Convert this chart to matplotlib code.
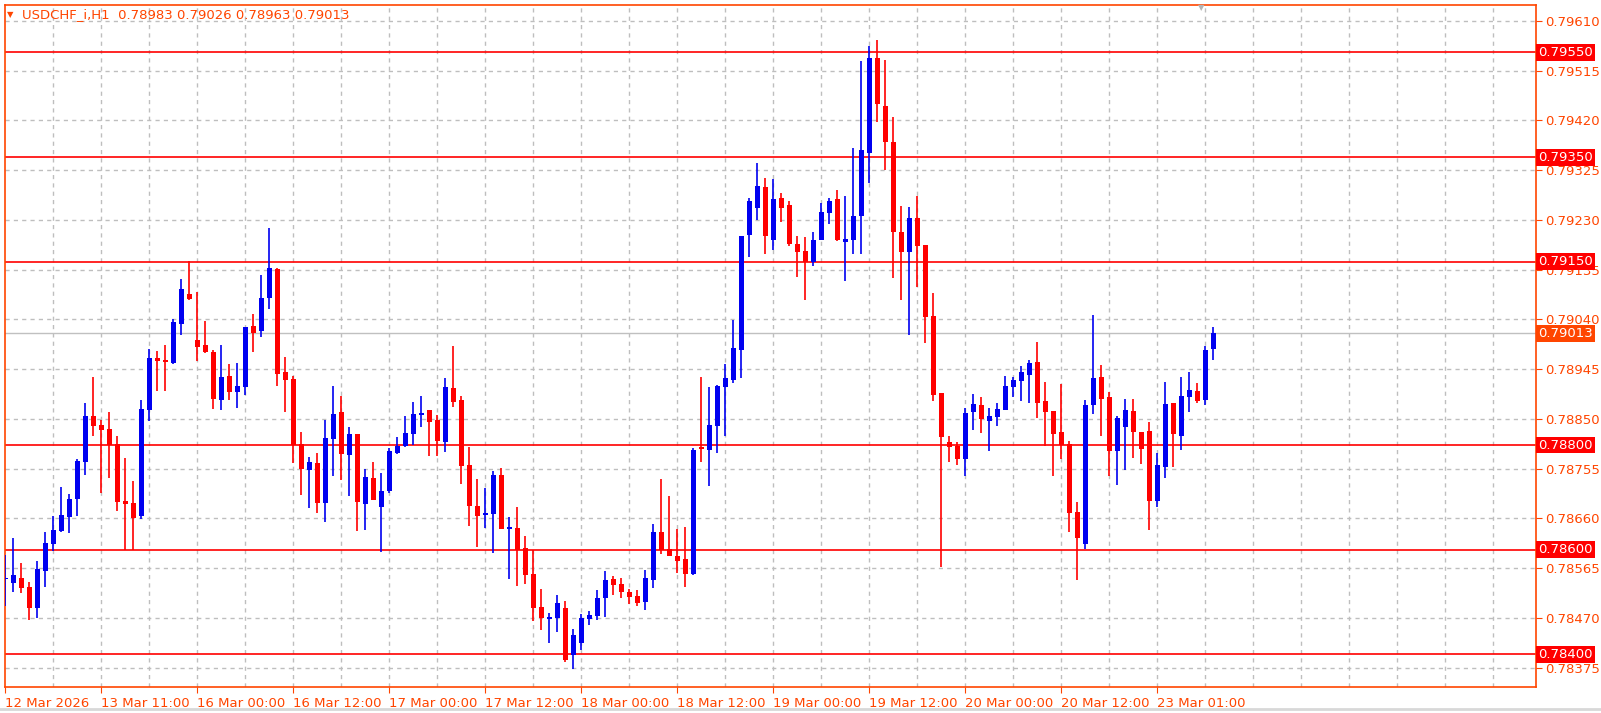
import numpy as np
import matplotlib.pyplot as plt
from matplotlib.patches import Rectangle

# USDCHF_i H1 candles, prices in points (1e-5)
opens = [78544, 78537, 78546, 78529, 78489, 78559, 78611, 78636, 78663, 78697,
         78768, 78855, 78838, 78831, 78802, 78693, 78689, 78664, 78867, 78966,
         78962, 78957, 79031, 79088, 79001, 78991, 78978, 78886, 78932, 78901,
         78911, 79027, 79018, 79081, 79136, 78939, 78926, 78802, 78752, 78766,
         78689, 78812, 78863, 78781, 78821, 78687, 78737, 78682, 78712, 78785,
         78798, 78821, 78857, 78867, 78848, 78806, 78909, 78886, 78762, 78684,
         78666, 78668, 78743, 78640, 78642, 78603, 78554, 78491, 78468, 78470,
         78489, 78399, 78422, 78468, 78473, 78508, 78544, 78535, 78519, 78512,
         78500, 78542, 78634, 78601, 78588, 78582, 78554, 78796, 78791, 78836,
         78911, 78924, 78982, 79201, 79253, 79293, 79192, 79272, 79259, 79184,
         79170, 79150, 79192, 79243, 79269, 79188, 79192, 79237, 79358, 79539,
         79447, 79379, 79207, 79168, 79233, 79182, 79047, 78899, 78806, 78798,
         78773, 78864, 78876, 78846, 78854, 78867, 78911, 78922, 78934, 78959,
         78884, 78865, 78825, 78802, 78672, 78611, 78876, 78930, 78892, 78789,
         78834, 78865, 78825, 78827, 78693, 78758, 78880, 78817, 78892, 78903,
         78886, 78983]
closes = [78546, 78552, 78527, 78489, 78563, 78613, 78638, 78666, 78697, 78770,
          78855, 78836, 78829, 78800, 78691, 78687, 78661, 78869, 78966, 78960,
          78959, 79035, 79098, 79079, 78987, 78978, 78888, 78930, 78901, 78913,
          79025, 79014, 79081, 79138, 78936, 78924, 78800, 78754, 78768, 78689,
          78813, 78859, 78783, 78821, 78691, 78739, 78695, 78712, 78789, 78798,
          78823, 78859, 78861, 78844, 78808, 78911, 78882, 78760, 78684, 78664,
          78670, 78743, 78640, 78643, 78600, 78552, 78489, 78470, 78472, 78498,
          78389, 78437, 78470, 78475, 78508, 78542, 78533, 78519, 78510, 78498,
          78546, 78634, 78600, 78588, 78578, 78554, 78791, 78792, 78838, 78913,
          78928, 78985, 79199, 79266, 79295, 79199, 79270, 79253, 79184, 79168,
          79150, 79192, 79245, 79267, 79192, 79194, 79237, 79364, 79539, 79452,
          79379, 79207, 79168, 79233, 79180, 79045, 78895, 78816, 78796, 78773,
          78862, 78879, 78850, 78855, 78869, 78913, 78924, 78939, 78957, 78880,
          78863, 78821, 78800, 78670, 78622, 78876, 78928, 78888, 78789, 78852,
          78867, 78825, 78792, 78693, 78762, 78878, 78821, 78894, 78905, 78884,
          78981, 79013]
highs = [78590, 78622, 78575, 78538, 78578, 78634, 78664, 78720, 78706, 78773,
         78880, 78930, 78848, 78863, 78817, 78775, 78731, 78886, 78983, 78980,
         78991, 79041, 79117, 79151, 79092, 79037, 78982, 78991, 78955, 78957,
         79025, 79050, 79125, 79215, 79138, 78968, 78932, 78825, 78777, 78785,
         78848, 78913, 78894, 78834, 78821, 78754, 78768, 78747, 78794, 78815,
         78855, 78882, 78894, 78867, 78857, 78928, 78989, 78894, 78796, 78735,
         78718, 78750, 78756, 78663, 78682, 78626, 78600, 78525, 78479, 78514,
         78502, 78449, 78477, 78483, 78523, 78559, 78550, 78546, 78525, 78523,
         78561, 78649, 78735, 78703, 78640, 78643, 78794, 78930, 78911, 78915,
         78955, 79039, 79199, 79272, 79339, 79310, 79308, 79281, 79267, 79200,
         79198, 79207, 79263, 79271, 79288, 79275, 79367, 79533, 79563, 79573,
         79535, 79427, 79257, 79255, 79275, 79182, 79091, 78899, 78818, 78806,
         78870, 78897, 78892, 78871, 78880, 78932, 78930, 78951, 78962, 78997,
         78920, 78865, 78917, 78808, 78691, 78886, 79048, 78953, 78901, 78855,
         78888, 78888, 78825, 78844, 78785, 78920, 78880, 78930, 78939, 78918,
         78989, 79026]
lows = [78493, 78519, 78517, 78466, 78470, 78529, 78598, 78634, 78632, 78664,
        78743, 78817, 78708, 78737, 78674, 78600, 78600, 78659, 78846, 78903,
        78903, 78955, 79010, 79077, 78960, 78976, 78869, 78867, 78886, 78871,
        78896, 78978, 79006, 79060, 78913, 78863, 78766, 78705, 78680, 78670,
        78653, 78741, 78733, 78703, 78636, 78638, 78695, 78596, 78708, 78783,
        78796, 78800, 78834, 78779, 78779, 78787, 78873, 78726, 78645, 78605,
        78642, 78594, 78640, 78544, 78531, 78535, 78464, 78447, 78422, 78443,
        78385, 78372, 78409, 78456, 78466, 78472, 78514, 78508, 78496, 78493,
        78485, 78527, 78592, 78588, 78556, 78529, 78552, 78768, 78722, 78785,
        78817, 78918, 78928, 79159, 79230, 79165, 79173, 79226, 79180, 79120,
        79077, 79142, 79192, 79223, 79190, 79113, 79164, 79164, 79300, 79417,
        79326, 79119, 79077, 79010, 79101, 78994, 78885, 78567, 78767, 78761,
        78741, 78828, 78823, 78789, 78836, 78867, 78892, 78884, 78880, 78852,
        78798, 78741, 78773, 78634, 78542, 78601, 78859, 78817, 78741, 78724,
        78752, 78775, 78764, 78638, 78682, 78737, 78758, 78791, 78863, 78880,
        78876, 78963]

level_lines = [0.79550, 0.79350, 0.79150, 0.78800, 0.78600, 0.78400]
last_price = 0.79013
time_labels = ['12 Mar 2026', '13 Mar 11:00', '16 Mar 00:00', '16 Mar 12:00',
               '17 Mar 00:00', '17 Mar 12:00', '18 Mar 00:00', '18 Mar 12:00',
               '19 Mar 00:00', '19 Mar 12:00', '20 Mar 00:00', '20 Mar 12:00',
               '23 Mar 01:00']
price_ticks = [0.79610 - 0.00095 * k for k in range(14)]

ORANGE = '#FF4500'
BLUE = '#0000F0'
RED = '#FF0000'
GRID = '#BEBEBE'

o = np.array(opens) / 1e5
c = np.array(closes) / 1e5
h = np.array(highs) / 1e5
l = np.array(lows) / 1e5
n = len(o)
xs = np.arange(n)

W, H = 1601, 713
fig = plt.figure(figsize=(W / 100, H / 100), dpi=100)
ax = fig.add_axes([4.7 / W, 1 - 687 / H, (1535.5 - 4.7) / W, (687 - 4.7) / H])
ax.set_xlim(-0.075, 191.3)
ax.set_ylim(0.783378, 0.796410)

# grid
for x in np.arange(6, 192, 6):
    ax.axvline(x, color=GRID, lw=1, ls=(0, (3, 3)), zorder=0)
for p in price_ticks:
    ax.axhline(p, color=GRID, lw=1, ls=(0, (3, 3)), zorder=0)

# current price line and levels
ax.axhline(last_price, color='#C0C0C0', lw=1, zorder=1)
for lv in level_lines:
    ax.axhline(lv, color=RED, lw=1.2, zorder=1)

# candles
px = (0.796410 - 0.783378) / (687 - 4.7)
for i in range(n):
    up = c[i] >= o[i]
    col = BLUE if up else RED
    ax.vlines(xs[i], l[i], h[i], color=col, lw=1.2, zorder=3)
    lo, hi = min(o[i], c[i]), max(o[i], c[i])
    ax.add_patch(Rectangle((xs[i] - 0.31, lo), 0.62, max(hi - lo, px * 1.5),
                           facecolor=col, edgecolor='none', zorder=4))

for s in ax.spines.values():
    s.set_color(ORANGE)
    s.set_linewidth(1.2)

ax.set_xticks(np.arange(0, 12 * len(time_labels), 12))
ax.set_xticklabels(time_labels, ha='left')
ax.tick_params(axis='x', colors=ORANGE, labelcolor=ORANGE, length=4, labelsize=9.5, pad=3)
for t in ax.get_xticklabels():
    t.set_x(0)

ax.yaxis.tick_right()
ax.set_yticks(price_ticks)
ax.set_yticklabels(['%.5f' % p for p in price_ticks])
ax.tick_params(axis='y', colors=ORANGE, labelcolor=ORANGE, length=4, labelsize=9.5, pad=3)

# level tags on the price scale
for lv in level_lines:
    ax.annotate('%.5f' % lv, xy=(1.0, lv), xycoords=('axes fraction', 'data'),
                xytext=(2, 0), textcoords='offset points', va='center', ha='left',
                color='white', fontsize=9.5, zorder=10, annotation_clip=False,
                bbox=dict(boxstyle='square,pad=0.15', fc=RED, ec='none'))
ax.annotate('%.5f' % last_price, xy=(1.0, last_price), xycoords=('axes fraction', 'data'),
            xytext=(2, 0), textcoords='offset points', va='center', ha='left',
            color='white', fontsize=9.5, zorder=10, annotation_clip=False,
            bbox=dict(boxstyle='square,pad=0.15', fc=ORANGE, ec='none'))

# header
fig.text(7 / W, 1 - 15 / H, '\u25bc', color=ORANGE, fontsize=6, va='center')
fig.text(22 / W, 1 - 15 / H, 'USDCHF_i,H1  %.5f %.5f %.5f %.5f' % (o[-1], h[-1], l[-1], c[-1]),
         color=ORANGE, fontsize=9.5, va='center')
fig.text(1201 / W, 1 - 8 / H, '\u25bc', color='#B4B4B4', fontsize=6, va='center', ha='center')

fig.add_artist(plt.Line2D([0, 1], [1 - 709 / H, 1 - 709 / H], color='#D8D8D8', lw=2))

fig.savefig('out.png', dpi=100, facecolor='white')
